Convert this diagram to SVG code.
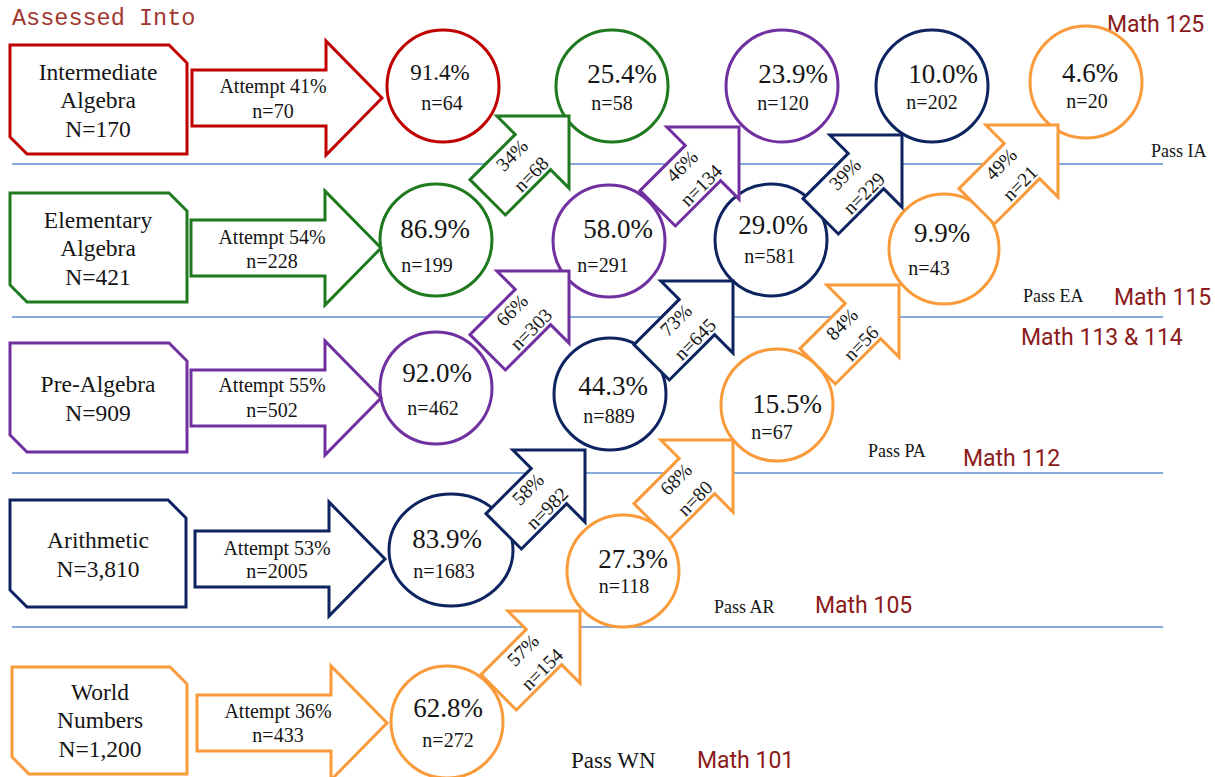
<svg xmlns="http://www.w3.org/2000/svg" xmlns:xlink="http://www.w3.org/1999/xlink" width="1215" height="777" viewBox="0 0 1215 777">
<style>
.bg{fill:#fff}
.shape{fill:#fff;stroke-width:3}
.red{stroke:#C00000}
.grn{stroke:#1F7A1F}
.pur{stroke:#7030A0}
.nav{stroke:#0E2461}
.org{stroke:#F99A3B}
.t{font-family:"Liberation Serif",serif;fill:#151515;text-anchor:middle}
.bt{font-size:23.5px}
.att{font-size:20px}
.pct{font-size:27px}
.pct2{font-size:23px}
.n{font-size:20px}
.dg{font-size:19.5px}
.pass{font-family:"Liberation Serif",serif;fill:#151515;font-size:18px}
.passwn{font-size:23px}
.math{font-family:Roboto,"Liberation Sans",sans-serif;font-size:23px;fill:#8B1A1A}
.hdr{font-family:"Liberation Mono",monospace;font-size:23.5px;fill:#A0372F}
.rule{stroke:#5E8FCF;stroke-width:1.3}
</style>
<defs>
<polygon id="ha" points="-190,-28 -56,-28 -56,-57 0,0 -56,57 -56,28 -190,28"/>
<polygon id="da" points="-115,-25 -51,-25 -51,-51 0,0 -51,51 -51,25 -115,25"/>
</defs>
<rect class="bg" width="1215" height="777"/>
<text class="hdr" x="12" y="25">Assessed Into</text>
<g id="rules">
<line class="rule" x1="12" y1="164" x2="1163" y2="164"/>
<line class="rule" x1="12" y1="317" x2="1163" y2="317"/>
<line class="rule" x1="12" y1="473" x2="1163" y2="473"/>
<line class="rule" x1="12" y1="627" x2="1163" y2="627"/>
</g>
<g id="labels">
<text class="math" x="1107" y="32">Math 125</text>
<text class="pass" x="1151" y="157">Pass IA</text>
<text class="pass" x="1023" y="302">Pass EA</text>
<text class="math" x="1114" y="305">Math 115</text>
<text class="math" x="1021" y="345">Math 113 &amp; 114</text>
<text class="pass" x="868" y="457">Pass PA</text>
<text class="math" x="963" y="466">Math 112</text>
<text class="pass" x="714" y="613">Pass AR</text>
<text class="math" x="815" y="613">Math 105</text>
<text class="pass passwn" x="571" y="768">Pass WN</text>
<text class="math" x="697" y="768">Math 101</text>
</g>
<g id="box-ia">
<path class="shape red" d="M10,45 H169 L187,63 V154 H27 L10,137 Z"/>
<text class="t bt" x="98" y="80">Intermediate</text>
<text class="t bt" x="98" y="108">Algebra</text>
<text class="t bt" x="98" y="137">N=170</text>
</g>
<g id="box-ea">
<path class="shape grn" d="M10,193 H169 L187,211 V302 H27 L10,285 Z"/>
<text class="t bt" x="98" y="228">Elementary</text>
<text class="t bt" x="98" y="256">Algebra</text>
<text class="t bt" x="98" y="285">N=421</text>
</g>
<g id="box-pa">
<path class="shape pur" d="M10,343 H169 L187,361 V452 H27 L10,435 Z"/>
<text class="t bt" x="98" y="392">Pre-Algebra</text>
<text class="t bt" x="98" y="421">N=909</text>
</g>
<g id="box-ar">
<path class="shape nav" d="M10,500 H168 L186,518 V607 H27 L10,590 Z"/>
<text class="t bt" x="98" y="548">Arithmetic</text>
<text class="t bt" x="98" y="577">N=3,810</text>
</g>
<g id="box-wn">
<path class="shape org" d="M12,667 H170 L187,684 V774 H29 L12,757 Z"/>
<text class="t bt" x="100" y="700">World</text>
<text class="t bt" x="100" y="728">Numbers</text>
<text class="t bt" x="100" y="757">N=1,200</text>
</g>
<g id="circles">
<g id="c-ia-1"><circle class="shape red" cx="443" cy="86" r="56"/><text class="t pct2" x="440" y="80">91.4%</text><text class="t n" x="442" y="110">n=64</text></g>
<g id="c-ia-2"><circle class="shape grn" cx="612" cy="86" r="56"/><text class="t pct" x="622" y="83">25.4%</text><text class="t n" x="612" y="110">n=58</text></g>
<g id="c-ia-3"><circle class="shape pur" cx="782" cy="86" r="56"/><text class="t pct" x="793" y="83">23.9%</text><text class="t n" x="783" y="110">n=120</text></g>
<g id="c-ia-4"><circle class="shape nav" cx="932" cy="86" r="56"/><text class="t pct" x="943" y="83">10.0%</text><text class="t n" x="932" y="109">n=202</text></g>
<g id="c-ia-5"><circle class="shape org" cx="1086" cy="82" r="56"/><text class="t pct" x="1090" y="82">4.6%</text><text class="t n" x="1087" y="108">n=20</text></g>
<g id="c-ea-1"><circle class="shape grn" cx="436" cy="240" r="56"/><text class="t pct" x="435" y="238">86.9%</text><text class="t n" x="427" y="272">n=199</text></g>
<g id="c-ea-2"><circle class="shape pur" cx="609" cy="241" r="56"/><text class="t pct" x="618" y="238">58.0%</text><text class="t n" x="603" y="272">n=291</text></g>
<g id="c-ea-3"><circle class="shape nav" cx="771" cy="240" r="56"/><text class="t pct" x="773" y="234">29.0%</text><text class="t n" x="770" y="263">n=581</text></g>
<g id="c-ea-4"><circle class="shape org" cx="944" cy="249" r="55"/><text class="t pct" x="942" y="242">9.9%</text><text class="t n" x="929" y="275">n=43</text></g>
<g id="c-pa-1"><circle class="shape pur" cx="436" cy="388" r="56"/><text class="t pct" x="437" y="382">92.0%</text><text class="t n" x="433" y="415">n=462</text></g>
<g id="c-pa-2"><circle class="shape nav" cx="610" cy="394" r="56"/><text class="t pct" x="613" y="395">44.3%</text><text class="t n" x="609" y="423">n=889</text></g>
<g id="c-pa-3"><circle class="shape org" cx="777" cy="405" r="56"/><text class="t pct" x="787" y="413">15.5%</text><text class="t n" x="772" y="439">n=67</text></g>
<g id="c-ar-1"><ellipse class="shape nav" cx="451" cy="550" rx="62" ry="56"/><text class="t pct" x="447" y="548">83.9%</text><text class="t n" x="444" y="578">n=1683</text></g>
<g id="c-ar-2"><circle class="shape org" cx="623" cy="571" r="56"/><text class="t pct" x="633" y="568">27.3%</text><text class="t n" x="624" y="593">n=118</text></g>
<g id="c-wn-1"><circle class="shape org" cx="447" cy="722" r="56"/><text class="t pct" x="448" y="717">62.8%</text><text class="t n" x="448" y="747">n=272</text></g>
</g>
<g id="connectors">
<g id="a-ia"><use xlink:href="#ha" class="shape red" transform="translate(382,98)"/><text class="t att" x="273" y="93">Attempt 41%</text><text class="t att" x="273" y="118">n=70</text></g>
<g id="a-ea"><use xlink:href="#ha" class="shape grn" transform="translate(381,248)"/><text class="t att" x="272" y="244">Attempt 54%</text><text class="t att" x="272" y="268">n=228</text></g>
<g id="a-pa"><use xlink:href="#ha" class="shape pur" transform="translate(381,398)"/><text class="t att" x="272" y="392">Attempt 55%</text><text class="t att" x="272" y="417">n=502</text></g>
<g id="a-ar"><use xlink:href="#ha" class="shape nav" transform="translate(385,559)"/><text class="t att" x="277" y="555">Attempt 53%</text><text class="t att" x="277" y="578">n=2005</text></g>
<g id="a-wn"><use xlink:href="#ha" class="shape org" transform="translate(387,723)"/><text class="t att" x="278" y="718">Attempt 36%</text><text class="t att" x="278" y="742">n=433</text></g>
<g id="d-34" transform="translate(569,116) rotate(-45)"><use xlink:href="#da" class="shape grn"/><text class="t dg" x="-68" y="-6">34%</text><text class="t dg" x="-68" y="21">n=68</text></g>
<g id="d-46" transform="translate(739,127) rotate(-45)"><use xlink:href="#da" class="shape pur"/><text class="t dg" x="-68" y="-6">46%</text><text class="t dg" x="-68" y="21">n=134</text></g>
<g id="d-66" transform="translate(569,271) rotate(-45)"><use xlink:href="#da" class="shape pur"/><text class="t dg" x="-68" y="-6">66%</text><text class="t dg" x="-68" y="21">n=303</text></g>
<g id="d-73" transform="translate(733,281) rotate(-45)"><use xlink:href="#da" class="shape nav"/><text class="t dg" x="-68" y="-6">73%</text><text class="t dg" x="-68" y="21">n=645</text></g>
<g id="d-39" transform="translate(902,135) rotate(-45)"><use xlink:href="#da" class="shape nav"/><text class="t dg" x="-68" y="-6">39%</text><text class="t dg" x="-68" y="21">n=229</text></g>
<g id="d-49" transform="translate(1058,125) rotate(-45)"><use xlink:href="#da" class="shape org"/><text class="t dg" x="-68" y="-6">49%</text><text class="t dg" x="-68" y="21">n=21</text></g>
<g id="d-58" transform="translate(585,450) rotate(-45)"><use xlink:href="#da" class="shape nav"/><text class="t dg" x="-68" y="-6">58%</text><text class="t dg" x="-68" y="21">n=982</text></g>
<g id="d-68" transform="translate(733,440) rotate(-45)"><use xlink:href="#da" class="shape org"/><text class="t dg" x="-68" y="-6">68%</text><text class="t dg" x="-68" y="21">n=80</text></g>
<g id="d-84" transform="translate(899,285) rotate(-45)"><use xlink:href="#da" class="shape org"/><text class="t dg" x="-68" y="-6">84%</text><text class="t dg" x="-68" y="21">n=56</text></g>
<g id="d-57" transform="translate(580,611) rotate(-45)"><use xlink:href="#da" class="shape org"/><text class="t dg" x="-68" y="-6">57%</text><text class="t dg" x="-68" y="21">n=154</text></g>
</g>
</svg>
